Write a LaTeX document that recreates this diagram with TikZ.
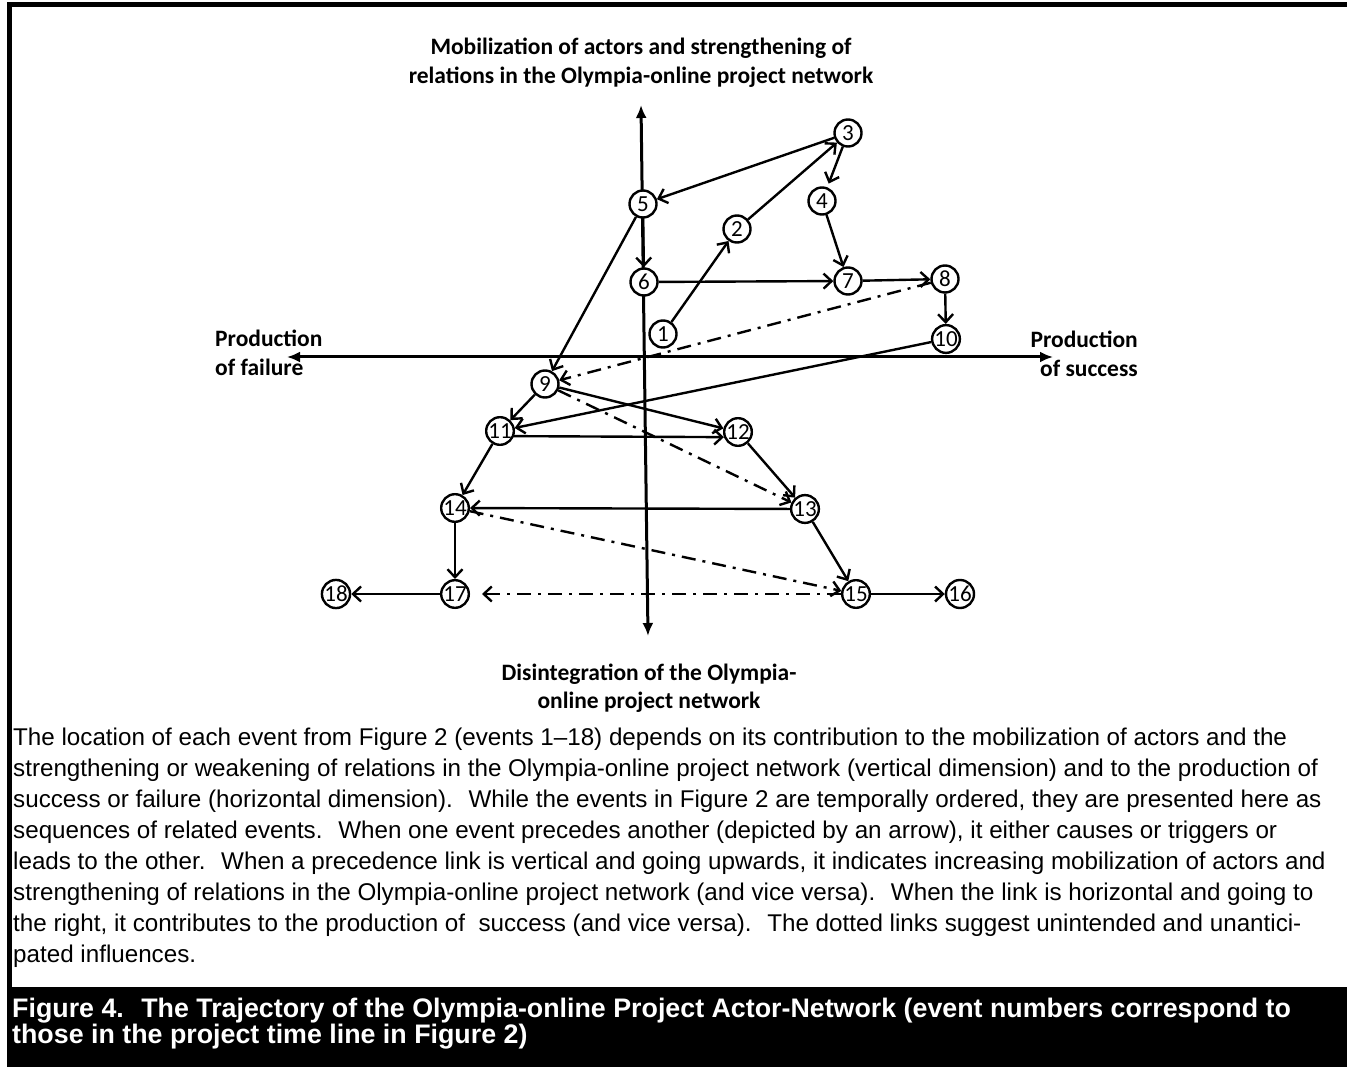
\documentclass[tikz,border=0pt]{standalone}
\usepackage{fontspec}
\setmainfont{Liberation Sans}
\newfontfamily\calfont{Carlito}
\usepackage{tikz}
\usetikzlibrary{arrows.meta}
\definecolor{ink}{HTML}{000000}
\definecolor{paper}{HTML}{FFFFFF}
\newcommand{\capline}[3]{%
  \node[captext] (#1) at (13,#2) {#3};
}

\begin{document}
\begin{tikzpicture}[x=1pt,y=-1pt,
    event/.style={circle,draw=ink,fill=paper,line width=2.4pt,minimum size=27pt,inner sep=0pt,font=\calfont\fontsize{23}{23}\selectfont},
    link/.style={draw=ink,line width=2.4pt,-{Straight Barb[length=8pt,width=15pt]}},
    hint/.style={link,dash pattern=on 14pt off 7pt on 3pt off 7pt},
    axis/.style={draw=ink,line width=3pt,{Latex[length=13pt,width=11pt]}-{Latex[length=13pt,width=11pt]}},
    dimlbl/.style={font=\calfont\bfseries\fontsize{23.5}{29}\selectfont,inner sep=0pt},
    captext/.style={font=\fontsize{24.2}{28}\selectfont,inner sep=0pt,anchor=base west},
    bartext/.style={font=\bfseries\fontsize{26.8}{27}\selectfont,text=paper,inner sep=0pt,anchor=base west}]
    \useasboundingbox (0,0) rectangle (1347,1067);
    \fill[ink] (7,2) rectangle (1347,7);
    \fill[ink] (7,2) rectangle (12,1067);
    \fill[ink] (7,987) rectangle (1347,1067);
    \coordinate (vtop) at (641,105);
    \coordinate (vbot) at (648,636);
    \coordinate (hleft) at (287,357);
    \coordinate (hright) at (1053,357);
    \draw[axis] (vtop) -- (vbot);
    \draw[axis] (hleft) -- (hright);
    \node[dimlbl,anchor=base] (mob1) at (641,55) {Mobilization of actors and strengthening of};
    \node[dimlbl,anchor=base] (mob2) at (641,84) {relations in the Olympia-online project network};
    \node[dimlbl,anchor=base west] (fail1) at (215,347) {Production};
    \node[dimlbl,anchor=base west] (fail2) at (215,375) {of failure};
    \node[dimlbl,anchor=base east] (succ1) at (1138,348) {Production};
    \node[dimlbl,anchor=base east] (succ2) at (1138,376) {of success};
    \node[dimlbl,anchor=base] (dis1) at (649,680) {Disintegration of the Olympia-};
    \node[dimlbl,anchor=base] (dis2) at (649,708) {online project network};
    \node[event] (n1) at (663,334) {1};
    \node[event] (n2) at (737,229) {2};
    \node[event] (n3) at (848,133) {3};
    \node[event] (n4) at (822,201) {4};
    \node[event] (n5) at (643,204) {5};
    \node[event] (n6) at (644,282) {6};
    \node[event] (n7) at (848,281) {7};
    \node[event] (n8) at (945,279) {8};
    \node[event] (n9) at (545,384) {9};
    \node[event] (n10) at (946,339) {10};
    \node[event] (n11) at (500,431) {11};
    \node[event] (n12) at (738,432) {12};
    \node[event] (n13) at (805,509) {13};
    \node[event] (n14) at (455,508) {14};
    \node[event] (n15) at (856,594) {15};
    \node[event] (n16) at (960,594) {16};
    \node[event] (n17) at (455,594) {17};
    \node[event] (n18) at (336,594) {18};
    \draw[link] (n1) -- (n2);
    \draw[link] (n2) -- (n3);
    \draw[link] (n3) -- (n5);
    \draw[link,shorten >=4pt] (n3) -- (n4);
    \draw[link] (n4) -- (n7);
    \draw[link] (n5) -- (n6);
    \draw[link] (n5) -- (n9);
    \draw[link] (n6) -- (n7);
    \draw[link] (n7) -- (n8);
    \draw[link] (n8) -- (n10);
    \draw[hint] (n8) -- (n9);
    \draw[link] (n10) -- (n11);
    \draw[link] (n9) -- (n11);
    \draw[link] (n9) -- (n12);
    \draw[hint] (n9) -- (n13);
    \draw[link] (n11.-20) -- (n12.200);
    \draw[link] (n11) -- (n14);
    \draw[link] (n12) -- (n13);
    \draw[link] (n13) -- (n14);
    \draw[link] (n13) -- (n15);
    \draw[hint] (n14) -- (n15);
    \draw[link] (n14) -- (n17);
    \draw[hint,shorten >=12pt] (n15) -- (n17);
    \draw[link] (n15) -- (n16);
    \draw[link] (n17) -- (n18);
    \capline{cap1}{745}{The location of each event from Figure 2 (events 1--18) depends on its contribution to the mobilization of actors and the}
    \capline{cap2}{776}{strengthening or weakening of relations in the Olympia-online project network (vertical dimension) and to the production of}
    \capline{cap3}{807}{success or failure (horizontal dimension). \ While the events in Figure 2 are temporally ordered, they are presented here as}
    \capline{cap4}{838}{sequences of related events. \ When one event precedes another (depicted by an arrow), it either causes or triggers or}
    \capline{cap5}{869}{leads to the other. \ When a precedence link is vertical and going upwards, it indicates increasing mobilization of actors and}
    \capline{cap6}{900}{strengthening of relations in the Olympia-online project network (and vice versa). \ When the link is horizontal and going to}
    \capline{cap7}{931}{the right, it contributes to the production of \ success (and vice versa). \ The dotted links suggest unintended and unantici-}
    \capline{cap8}{962}{pated influences.}
    \node[bartext] (fig1) at (12,1017) {Figure 4. \ The Trajectory of the Olympia-online Project Actor-Network (event numbers correspond to};
    \node[bartext] (fig2) at (12,1043) {those in the project time line in Figure 2)};
  \end{tikzpicture}
\end{document}
